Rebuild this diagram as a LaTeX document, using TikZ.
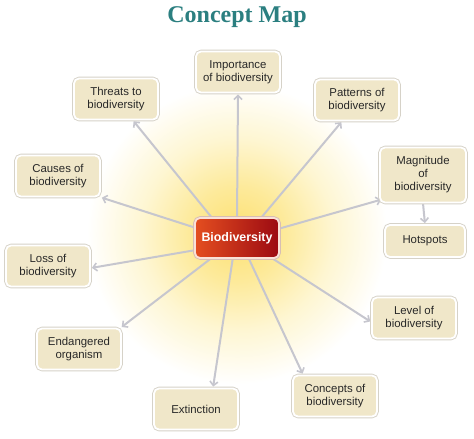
\documentclass[tikz,border=0pt]{standalone}
\usepackage{fontspec}
\setmainfont{Liberation Sans}
\newfontfamily\titlefont{Liberation Serif}
\usetikzlibrary{arrows.meta,calc}
\definecolor{boxfill}{RGB}{240,231,201}
\definecolor{boxedge}{RGB}{214,210,200}
\definecolor{bioedge}{RGB}{250,225,215}
\definecolor{bioouter}{RGB}{215,190,180}
\definecolor{boxtext}{RGB}{40,40,40}
\definecolor{arrowgray}{RGB}{198,198,206}
\definecolor{titleteal}{RGB}{43,127,128}
\definecolor{bioleft}{RGB}{228,78,32}
\definecolor{bioright}{RGB}{156,10,18}
\definecolor{glowA}{RGB}{252,224,112}
\definecolor{glowB}{RGB}{253,234,155}
\definecolor{glowC}{RGB}{254,246,210}
\pgfdeclarelayer{glowlayer}
\pgfdeclarelayer{linelayer}
\pgfsetlayers{glowlayer,linelayer,main}
\pgfdeclareradialshading{sunglow}{\pgfpoint{0bp}{0bp}}{color(0bp)=(glowA); color(8bp)=(glowB); color(16bp)=(glowC); color(25bp)=(white); color(50bp)=(white)}
\begin{document}
\begin{tikzpicture}[x=1pt,y=-1pt,
  concept/.style={rectangle, rounded corners=5pt, fill=boxfill, draw=white, line width=1.8pt,
    preaction={draw=boxedge, line width=3.6pt}, text=boxtext,
    font=\fontsize{11.4}{13}\selectfont, align=center,
    minimum width=84pt, minimum height=41pt, inner sep=2pt},
  centerbox/.style={rectangle, rounded corners=5pt, left color=bioleft, right color=bioright,
    draw=bioedge, line width=1.8pt, preaction={draw=bioouter, line width=3.6pt},
    text=white, font=\fontsize{12.4}{14}\selectfont\bfseries,
    minimum width=84pt, minimum height=40pt, inner sep=2pt},
  link/.style={draw=arrowgray, line width=2pt, shorten >=1pt,
    -{Straight Barb[length=4pt,width=8pt,line width=1.6pt]}},
  titlestyle/.style={text=titleteal, font=\titlefont\fontsize{24}{28}\selectfont\bfseries, anchor=base}
]
\useasboundingbox (0,0) rectangle (474,439);
\begin{pgfonlayer}{glowlayer}
  \fill[white] (0,0) rectangle (474,439);
  \begin{scope}
    \clip (0,0) rectangle (474,439);
    \shade[shading=sunglow] (237,234) circle (150);
  \end{scope}
\end{pgfonlayer}

\node[titlestyle] (title) at (237,23) {Concept Map};

\node[centerbox] (bio) at (237,238) {Biodiversity};

\node[concept] (import) at (238,72) {Importance\\of biodiversity};
\node[concept] (threats) at (116,99) {Threats to\\biodiversity};
\node[concept] (patterns) at (357,100) {Patterns of\\biodiversity};
\node[concept] (causes) at (58,176) {Causes of\\biodiversity};
\node[concept, minimum width=86pt, minimum height=55pt] (mag) at (423,175) {Magnitude\\of\\biodiversity};
\node[concept, minimum width=80pt, minimum height=32pt] (hot) at (425,241) {Hotspots};
\node[concept] (loss) at (48,266) {Loss of\\biodiversity};
\node[concept] (level) at (414,318) {Level of\\biodiversity};
\node[concept] (endang) at (79,349) {Endangered\\organism};
\node[concept] (concepts) at (335,396) {Concepts of\\biodiversity};
\node[concept] (extinct) at (196,409) {Extinction};

\begin{pgfonlayer}{linelayer}
  \draw[link] ($(bio.north)+(0,2)$) -- (import.south);
  \draw[link] ($(bio.north)+(-24,2)$) -- ($(threats.south)+(17,0)$);
  \draw[link] ($(bio.north)+(23,2)$) -- ($(patterns.south)+(-15,0)$);
  \draw[link] ($(bio.west)+(2,-10)$) -- ($(causes.south east)+(0,0)$);
  \draw[link] ($(bio.west)+(2,12)$) -- ($(loss.east)+(0,2)$);
  \draw[link] ($(bio.east)+(-2,-9)$) -- ($(mag.south west)+(3,-4)$);
  \draw[link] ($(bio.south)+(-24,-2)$) -- ($(endang.north east)+(-1,0)$);
  \draw[link] ($(bio.south)+(-4,-2)$) -- ($(extinct.north)+(17,0)$);
  \draw[link] ($(bio.south)+(11,-2)$) -- ($(concepts.north)+(-32,0)$);
  \draw[link] ($(bio.south)+(33,-2)$) -- ($(level.west)+(0,4)$);
  \draw[link] (mag.south) -- (hot.north);
\end{pgfonlayer}
\end{tikzpicture}
\end{document}
